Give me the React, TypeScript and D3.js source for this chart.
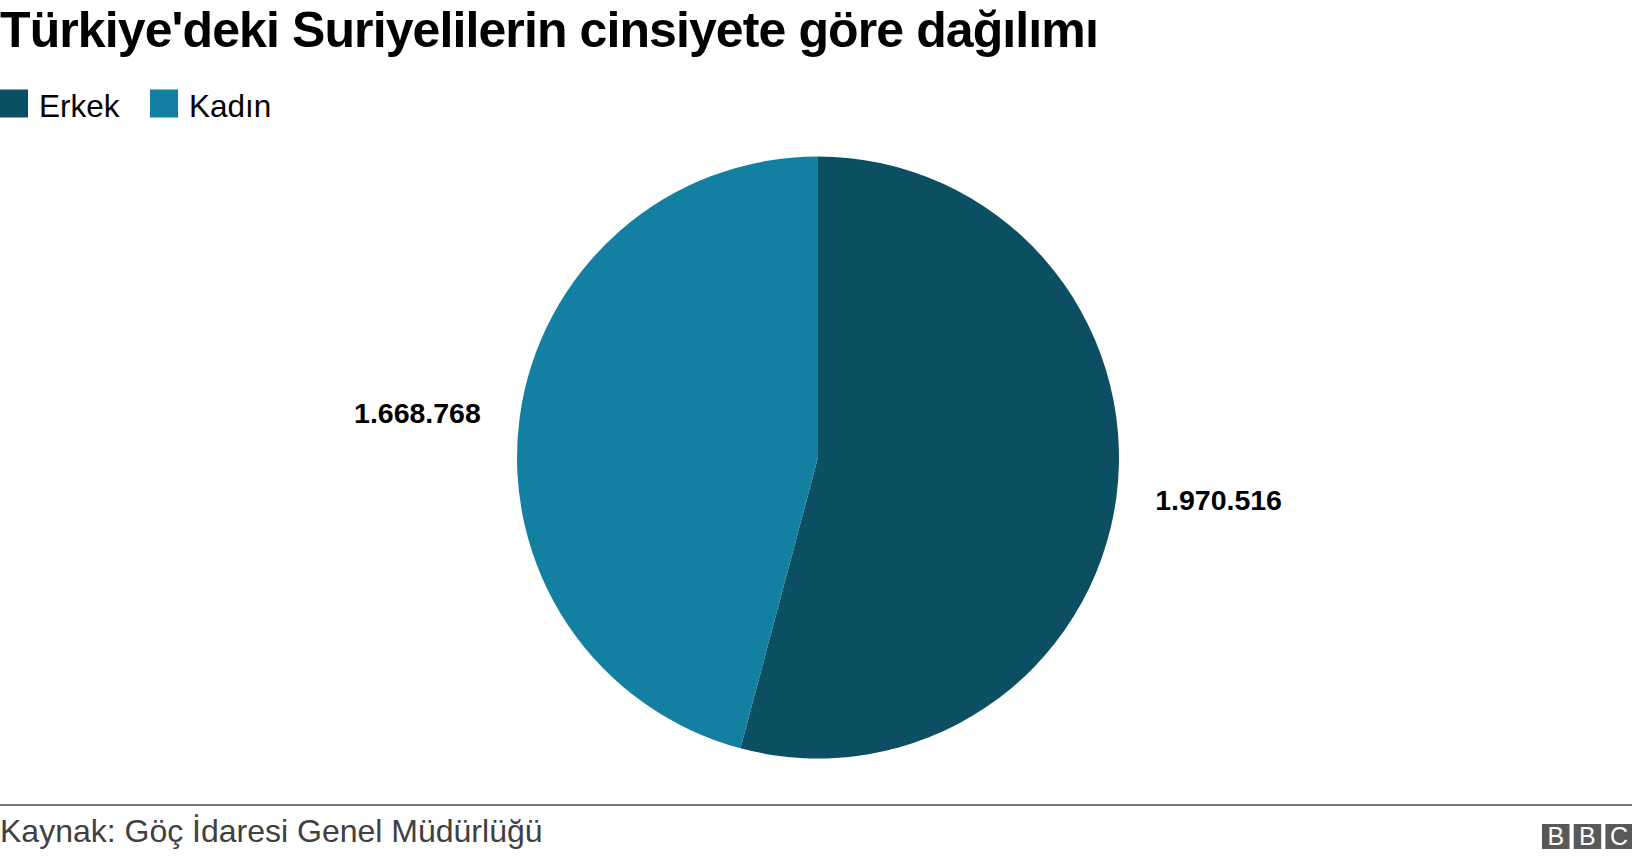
import React from "react";
import * as d3 from "d3";

const categories = ["Erkek", "Kadın"];
const values = [1970516, 1668768];
const colors = ["#0c4e62", "#1380a1"];
const labels = ["1.970.516", "1.668.768"];
const title = "Türkiye'deki Suriyelilerin cinsiyete göre dağılımı";
const source = "Kaynak: Göç İdaresi Genel Müdürlüğü";
const logoLetters = ["B", "B", "C"];

const W = 1632;
const H = 860;

export default function App() {
  const cx = 818;
  const cy = 457.5;
  const r = 301;
  const data = categories.map((c, i) => ({ c, v: values[i], color: colors[i], label: labels[i] }));
  const pie = d3.pie<any>().value((d) => d.v).sort(null).startAngle(0).endAngle(2 * Math.PI);
  const arcs = pie(data);
  const arc = d3.arc<any>().innerRadius(0).outerRadius(r);
  const labelArc = d3.arc<any>().innerRadius(404).outerRadius(404);
  const font = "'Liberation Sans', Arial, Helvetica, sans-serif";
  return (
    <svg width={W} height={H} style={{ position: "absolute", left: 0, top: 0 }} fontFamily={font}>
      <rect width={W} height={H} fill="#fff" />
      <text x={0} y={46.5} fontSize={50} letterSpacing={-0.9} fontWeight="bold" fill="#000">{title}</text>
      {data.map((d, i) => {
        const x0 = i === 0 ? 0 : 150;
        return (
          <g key={d.c}>
            <rect x={x0} y={89.5} width={28} height={28} fill={d.color} />
            <text x={x0 + 39} y={117.3} fontSize={31.5} fill="#000">{d.c}</text>
          </g>
        );
      })}
      <g transform={`translate(${cx},${cy})`}>
        {arcs.map((a, i) => (
          <path key={i} d={arc(a) || ""} fill={a.data.color} />
        ))}
        {arcs.map((a, i) => {
          const [lx, ly] = labelArc.centroid(a);
          return (
            <text key={"l" + i} x={lx} y={ly * 0.83} dy="0.3em" textAnchor="middle" fontSize={28.5} fontWeight="bold" fill="#000">
              {a.data.label}
            </text>
          );
        })}
      </g>
      <line x1={0} x2={W} y1={805} y2={805} stroke="#777" strokeWidth={2} />
      <text x={0} y={842} fontSize={32} fill="#404040">{source}</text>
      {logoLetters.map((ch, i) => (
        <g key={"bbc" + i}>
          <rect x={1542 + i * 31.7} y={824} width={27.5} height={25} fill="#595959" />
          <text x={1542 + i * 31.7 + 13.75} y={845} fontSize={25} fill="#fff" textAnchor="middle">{ch}</text>
        </g>
      ))}
    </svg>
  );
}
